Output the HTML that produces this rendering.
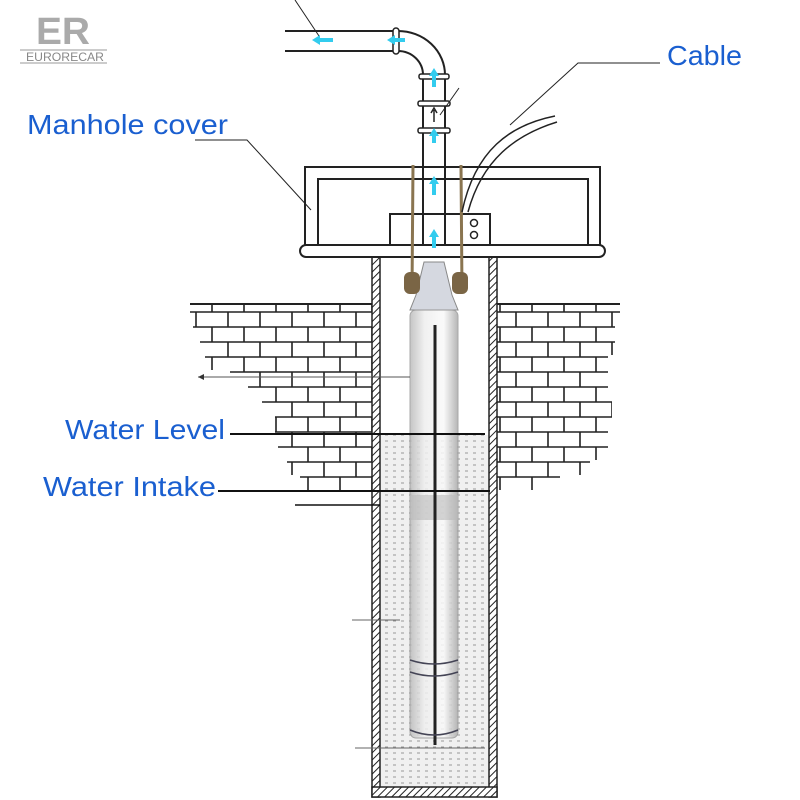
<!DOCTYPE html>
<html><head><style>body{margin:0;background:#fff}svg{display:block}</style></head><body>
<svg width="800" height="800" viewBox="0 0 800 800" xmlns="http://www.w3.org/2000/svg" font-family="Liberation Sans, DejaVu Sans, sans-serif">
<defs>
<pattern id="brick" x="0" y="304" width="64" height="30" patternUnits="userSpaceOnUse">
<rect width="64" height="30" fill="#fff"/>
<path d="M0 8H64M0 23H64M4 8V23M36 8V23M20 0V8M52 0V8M20 23V30M52 23V30" stroke="#222" stroke-width="1.6" fill="none"/>
</pattern>
<pattern id="hatch" width="5" height="5" patternUnits="userSpaceOnUse" patternTransform="rotate(45)">
<rect width="5" height="5" fill="#fff"/><line x1="0" y1="0" x2="0" y2="5" stroke="#222" stroke-width="2"/>
</pattern>
<pattern id="dots" width="8" height="6" patternUnits="userSpaceOnUse">
<rect width="8" height="6" fill="#f0f0f0"/><line x1="1" y1="3" x2="4" y2="3" stroke="#999" stroke-width="1"/>
</pattern>
<linearGradient id="pump" x1="0" x2="1"><stop offset="0" stop-color="#bbb"/><stop offset=".3" stop-color="#eee"/><stop offset=".7" stop-color="#fafafa"/><stop offset="1" stop-color="#aaa"/></linearGradient>
</defs>
<!-- logo -->
<text x="36" y="44" font-size="38" font-weight="bold" fill="#aaa" textLength="54" lengthAdjust="spacingAndGlyphs">ER</text>
<line x1="20" y1="50" x2="107" y2="50" stroke="#999" stroke-width="1"/>
<line x1="20" y1="63" x2="107" y2="63" stroke="#999" stroke-width="1"/>
<text x="26" y="61" font-size="12" fill="#888" textLength="78" lengthAdjust="spacingAndGlyphs">EURORECAR</text>
<!-- bricks -->
<polygon points="190,304 372,304 372,490 300,490 300,475 287,475 287,460 278,460 278,445 275,445 275,415 262,415 262,400 248,400 248,385 230,385 230,370 205,370 205,355 200,355 200,340 193,340 193,325 190,325" fill="url(#brick)"/>
<polygon points="496,304 620,304 620,325 615,325 615,355 608,355 608,400 612,400 612,430 608,430 608,460 590,460 590,475 560,475 560,490 496,490" fill="url(#brick)"/>
<line x1="190" y1="304" x2="372" y2="304" stroke="#222" stroke-width="2"/>
<line x1="496" y1="304" x2="620" y2="304" stroke="#222" stroke-width="2"/>
<!-- water -->
<rect x="380" y="435" width="109" height="352" fill="url(#dots)"/>
<!-- well walls -->
<rect x="372" y="257" width="8" height="540" fill="url(#hatch)" stroke="#222" stroke-width="1.5"/>
<rect x="489" y="257" width="8" height="540" fill="url(#hatch)" stroke="#222" stroke-width="1.5"/>
<rect x="372" y="787" width="125" height="10" fill="url(#hatch)" stroke="#222" stroke-width="1.5"/>
<!-- pump -->
<path d="M424 262 L444 262 L452 295 L458 310 L410 310 L416 295 Z" fill="#d5d8e0" stroke="#888"/>
<rect x="410" y="310" width="48" height="428" rx="6" fill="url(#pump)" opacity=".85" stroke="#999"/>
<rect x="410" y="495" width="48" height="25" fill="#bbb" opacity=".6"/>
<line x1="435" y1="325" x2="435" y2="745" stroke="#222" stroke-width="3"/>
<path d="M410 660 Q434 668 458 660 M410 672 Q434 680 458 672 M410 730 Q434 740 458 730" stroke="#445" stroke-width="1.5" fill="none"/>
<!-- manhole cover -->
<path d="M305 245 V167 H600 V245" fill="none" stroke="#222" stroke-width="2"/>
<path d="M318 245 V179 H588 V245" fill="none" stroke="#222" stroke-width="2"/>
<rect x="300" y="245" width="305" height="12" rx="6" fill="#fff" stroke="#222" stroke-width="2"/>
<rect x="390" y="214" width="100" height="31" fill="#fff" stroke="#222" stroke-width="2"/>
<circle cx="474" cy="223" r="3.5" fill="none" stroke="#222" stroke-width="1.5"/>
<circle cx="474" cy="235" r="3.5" fill="none" stroke="#222" stroke-width="1.5"/>
<!-- pipe -->
<path d="M423 245 V75 M445 245 V75" stroke="#222" stroke-width="2"/>
<path d="M285 31 H398 A47 44 0 0 1 445 75 M285 51 H398 A25 24 0 0 1 423 75" fill="none" stroke="#222" stroke-width="2"/>
<rect x="393" y="28" width="6" height="26" rx="3" fill="#fff" stroke="#222" stroke-width="1.5"/>
<rect x="419" y="74" width="30" height="5" rx="2" fill="#fff" stroke="#222" stroke-width="1.5"/>
<rect x="418" y="101" width="32" height="5" rx="2" fill="#fff" stroke="#222" stroke-width="1.5"/>
<rect x="418" y="128" width="32" height="5" rx="2" fill="#fff" stroke="#222" stroke-width="1.5"/>
<path d="M434 122 V110 M431 113 L434 108 L437 113" stroke="#222" stroke-width="1.5" fill="none"/>
<line x1="440" y1="115" x2="459" y2="88" stroke="#222" stroke-width="1"/>
<line x1="295" y1="0" x2="319" y2="36" stroke="#222" stroke-width="1"/>
<!-- ropes -->
<path d="M413 165 L412 292 M461 165 L462 292" stroke="#8a7550" stroke-width="3"/>
<rect x="404" y="272" width="16" height="22" rx="6" fill="#7a6545"/>
<rect x="452" y="272" width="16" height="22" rx="6" fill="#7a6545"/>
<!-- arrows -->
<g fill="#33ccee">
<path d="M312 40 L320 35 V38 H333 V42 H320 V45 Z"/>
<path d="M387 40 L395 35 V38 H405 V42 H395 V45 Z"/>
<path d="M434 68 L429 76 H432 V87 H436 V76 H439 Z"/>
<path d="M434 128 L429 136 H432 V143 H436 V136 H439 Z"/>
<path d="M434 176 L429 184 H432 V195 H436 V184 H439 Z"/>
<path d="M434 229 L429 237 H432 V248 H436 V237 H439 Z"/>
</g>
<!-- cables -->
<path d="M555 116 C510 125 475 150 462 212 M557 122 C515 135 482 160 468 212" fill="none" stroke="#222" stroke-width="1.5"/>
<!-- leaders -->
<path d="M195 140 H247 L311 210" fill="none" stroke="#222" stroke-width="1"/>
<path d="M660 63 H578 L510 125" fill="none" stroke="#222" stroke-width="1"/>
<line x1="230" y1="434" x2="485" y2="434" stroke="#111" stroke-width="2"/>
<line x1="218" y1="491" x2="490" y2="491" stroke="#111" stroke-width="2"/>
<line x1="295" y1="505" x2="380" y2="505" stroke="#111" stroke-width="1.5"/>
<line x1="198" y1="377" x2="410" y2="377" stroke="#555" stroke-width="1"/>
<path d="M198 377 l6 -3 v6 z" fill="#333"/>
<line x1="352" y1="620" x2="400" y2="620" stroke="#666" stroke-width="1"/>
<line x1="355" y1="748" x2="485" y2="748" stroke="#666" stroke-width="1"/>
<!-- labels -->
<g fill="#1a5fd0" font-size="28">
<text x="27" y="134" textLength="201" lengthAdjust="spacingAndGlyphs">Manhole cover</text>
<text x="667" y="65" textLength="75" lengthAdjust="spacingAndGlyphs">Cable</text>
<text x="65" y="439" textLength="160" lengthAdjust="spacingAndGlyphs">Water Level</text>
<text x="43" y="496" textLength="173" lengthAdjust="spacingAndGlyphs">Water Intake</text>
</g>
</svg>
</body></html>
